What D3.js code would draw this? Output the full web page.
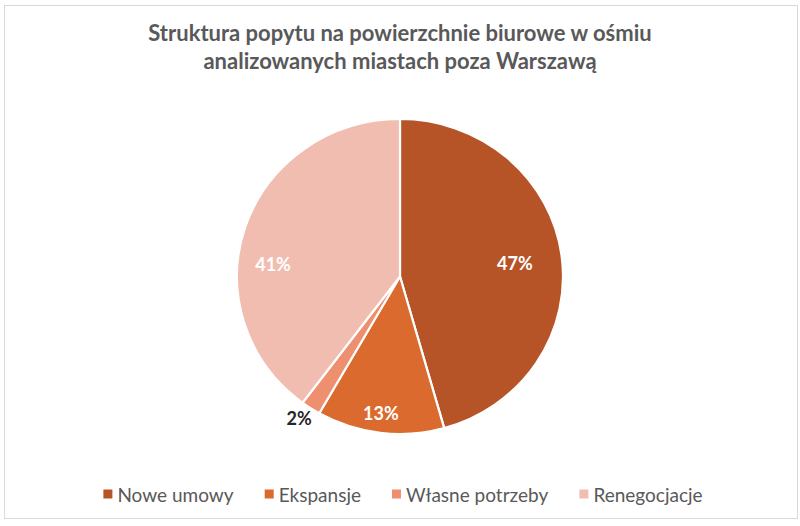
<!DOCTYPE html>
<html>
<head>
<meta charset="utf-8">
<script src="https://cdn.jsdelivr.net/npm/d3@7"></script>
<style>
  body { margin: 0; background: #fff; }
  svg { display: block; font-family: Lato, "Open Sans", sans-serif; }
</style>
</head>
<body>
<div id="chart"></div>
<script>
// data
const categories = ["Nowe umowy", "Ekspansje", "Własne potrzeby", "Renegocjacje"];
const values = [47, 13, 2, 41];
const labels = ["47%", "13%", "2%", "41%"];
const titleLines = ["Struktura popytu na powierzchnie biurowe w ośmiu", "analizowanych miastach poza Warszawą"];

const colors = ["#B65427", "#DA6A2E", "#EE8F70", "#F2BDB1"];
const labelColors = ["#fff", "#fff", "#262626", "#fff"];
// where each label sits: angle (deg, clockwise from top) and fraction of radius
const labelPlace = [{ a: 83.3, k: 0.71 }, { a: 187.7, k: 0.875 }, { a: 214.6, k: 1.09 }, { a: 275.8, k: 0.783 }];

const width = 800, height = 526;
const cx = 400, cy = 276.5, rx = 163, ry = 157.5; // picture is slightly squashed vertically

const svg = d3.select("#chart")
    .append("svg")
    .attr("width", width)
    .attr("height", height);

svg.append("rect") // chart frame
    .attr("x", 4.5).attr("y", 5.5)
    .attr("width", 793).attr("height", 513)
    .attr("fill", "#fff")
    .attr("stroke", "#d9d9d9")
    .attr("stroke-width", 1);

svg.append("text")
    .attr("x", cx)
    .attr("text-anchor", "middle")
    .style("font-size", "22px")
    .style("font-weight", "bold")
    .attr("fill", "#595959")
    .selectAll("tspan")
    .data(titleLines)
    .join("tspan")
    .attr("x", cx)
    .attr("y", (d, i) => 41 + i * 28)
    .text(d => d);

const pie = d3.pie().sort(null).value(d => d);
const arc = d3.arc().innerRadius(0).outerRadius(rx);
const arcs = pie(values);

svg.append("g")
    .attr("transform", `translate(${cx},${cy}) scale(1,${ry / rx})`)
    .selectAll("path")
    .data(arcs)
    .join("path")
    .attr("d", arc)
    .attr("fill", (d, i) => colors[i])
    .attr("stroke", "#fff")
    .attr("stroke-width", 2.2)
    .attr("vector-effect", "non-scaling-stroke");

svg.append("g")
    .selectAll("text")
    .data(arcs)
    .join("text")
    .attr("x", (d, i) => cx + Math.sin(labelPlace[i].a * Math.PI / 180) * rx * labelPlace[i].k)
    .attr("y", (d, i) => cy - Math.cos(labelPlace[i].a * Math.PI / 180) * ry * labelPlace[i].k)
    .attr("text-anchor", "middle")
    .attr("dominant-baseline", "central")
    .style("font-size", "18px")
    .style("font-weight", "bold")
    .attr("fill", (d, i) => labelColors[i])
    .text((d, i) => labels[i]);

// legend, laid out from measured text widths and centred
const legend = svg.append("g");
const items = legend.selectAll("g")
    .data(categories)
    .join("g");
items.append("rect")
    .attr("width", 9).attr("height", 9)
    .attr("y", -4.5)
    .attr("fill", (d, i) => colors[i]);
items.append("text")
    .attr("x", 14)
    .attr("dominant-baseline", "central")
    .style("font-size", "19px")
    .attr("fill", "#595959")
    .text(d => d);

const gap = 31;
let offs = [], pos = 0;
items.each(function () {
    offs.push(pos);
    pos += this.getBBox().width + gap;
});
const total = pos - gap;
items.attr("transform", (d, i) => `translate(${offs[i]},0)`);
legend.attr("transform", `translate(${cx - total / 2 + 3},494)`);
</script>
</body>
</html>
